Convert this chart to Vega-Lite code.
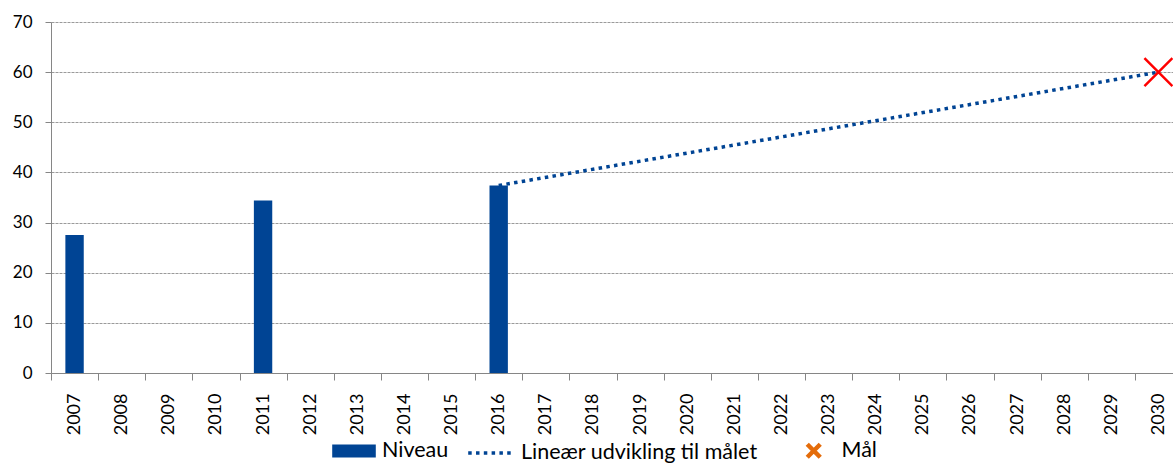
{
  "$schema": "https://vega.github.io/schema/vega-lite/v6.json",
  "width": 1122,
  "height": 351,
  "autosize": {"type": "none"},
  "padding": {"left": 51, "top": 22, "right": 0, "bottom": 91},
  "background": "white",
  "config": {
    "view": {"stroke": null},
    "font": "Lato",
    "axis": {"labelFont": "Lato", "labelColor": "#000000", "domainColor": "#868686", "tickColor": "#868686", "title": null},
    "legend": {"labelFont": "Lato", "labelFontSize": 21.5, "labelColor": "#000000", "labelLimit": 0, "title": null, "orient": "none", "padding": 0}
  },
  "data": {
    "values": [
      {"year": "2007", "value": 27.5, "series": "Niveau"},
      {"year": "2011", "value": 34.4, "series": "Niveau"},
      {"year": "2016", "value": 37.4, "series": "Niveau"},
      {"year": "2016", "value": 37.4, "series": "Lineær udvikling til målet"},
      {"year": "2030", "value": 60, "series": "Lineær udvikling til målet"},
      {"year": "2030", "value": 60, "series": "Mål"}
    ]
  },
  "encoding": {
    "x": {
      "field": "year",
      "type": "ordinal",
      "scale": {
        "domain": ["2007","2008","2009","2010","2011","2012","2013","2014","2015","2016","2017","2018","2019","2020","2021","2022","2023","2024","2025","2026","2027","2028","2029","2030"],
        "range": [0, 1131],
        "paddingInner": 0,
        "paddingOuter": 0
      },
      "axis": {"labelAngle": -90, "labelFontSize": 18, "tickSize": 7, "labelPadding": 13, "tickBand": "extent", "domainWidth": 1}
    },
    "y": {
      "field": "value",
      "type": "quantitative",
      "scale": {"domain": [0, 70], "nice": false},
      "axis": {
        "values": [0, 10, 20, 30, 40, 50, 60, 70],
        "labelFontSize": 17,
        "tickSize": 6,
        "labelPadding": 13,
        "grid": true,
        "gridColor": "#9a9a9a",
        "gridDash": [3, 1],
        "gridWidth": 1
      }
    }
  },
  "layer": [
    {
      "transform": [{"filter": "datum.series === 'Niveau'"}],
      "mark": {"type": "bar", "width": {"band": 0.39}},
      "encoding": {
        "fill": {
          "field": "series",
          "type": "nominal",
          "scale": {"domain": ["Niveau"], "range": ["#004494"]},
          "legend": {
            "legendX": 281,
            "legendY": 407,
            "symbolType": "M-1,-0.3H1V0.3H-1Z",
            "symbolSize": 1900,
            "symbolStrokeWidth": 0,
            "labelOffset": 6
          }
        }
      }
    },
    {
      "transform": [{"filter": "datum.series === 'Lineær udvikling til målet'"}],
      "mark": {"type": "line", "strokeWidth": 3.5, "color": "#004494"},
      "encoding": {
        "strokeDash": {
          "field": "series",
          "type": "nominal",
          "scale": {"domain": ["Lineær udvikling til målet"], "range": [[3.5, 4.3]]},
          "legend": {
            "legendX": 415,
            "legendY": 407,
            "symbolType": "stroke",
            "symbolSize": 1900,
            "symbolStrokeColor": "#004494",
            "symbolStrokeWidth": 3.5,
            "labelOffset": 7
          }
        }
      }
    },
    {
      "transform": [{"filter": "datum.series === 'Mål'"}],
      "mark": {"type": "point", "size": 784, "filled": false, "stroke": "#FF0000", "strokeWidth": 2.5, "opacity": 1},
      "encoding": {
        "shape": {
          "field": "series",
          "type": "nominal",
          "scale": {"domain": ["Mål"], "range": ["M-1,-1L1,1M1,-1L-1,1"]},
          "legend": {
            "legendX": 752,
            "legendY": 418,
            "symbolSize": 169,
            "symbolStrokeColor": "#E46C0A",
            "symbolFillColor": "transparent",
            "symbolStrokeWidth": 4.5,
            "labelOffset": 17
          }
        }
      }
    }
  ]
}
